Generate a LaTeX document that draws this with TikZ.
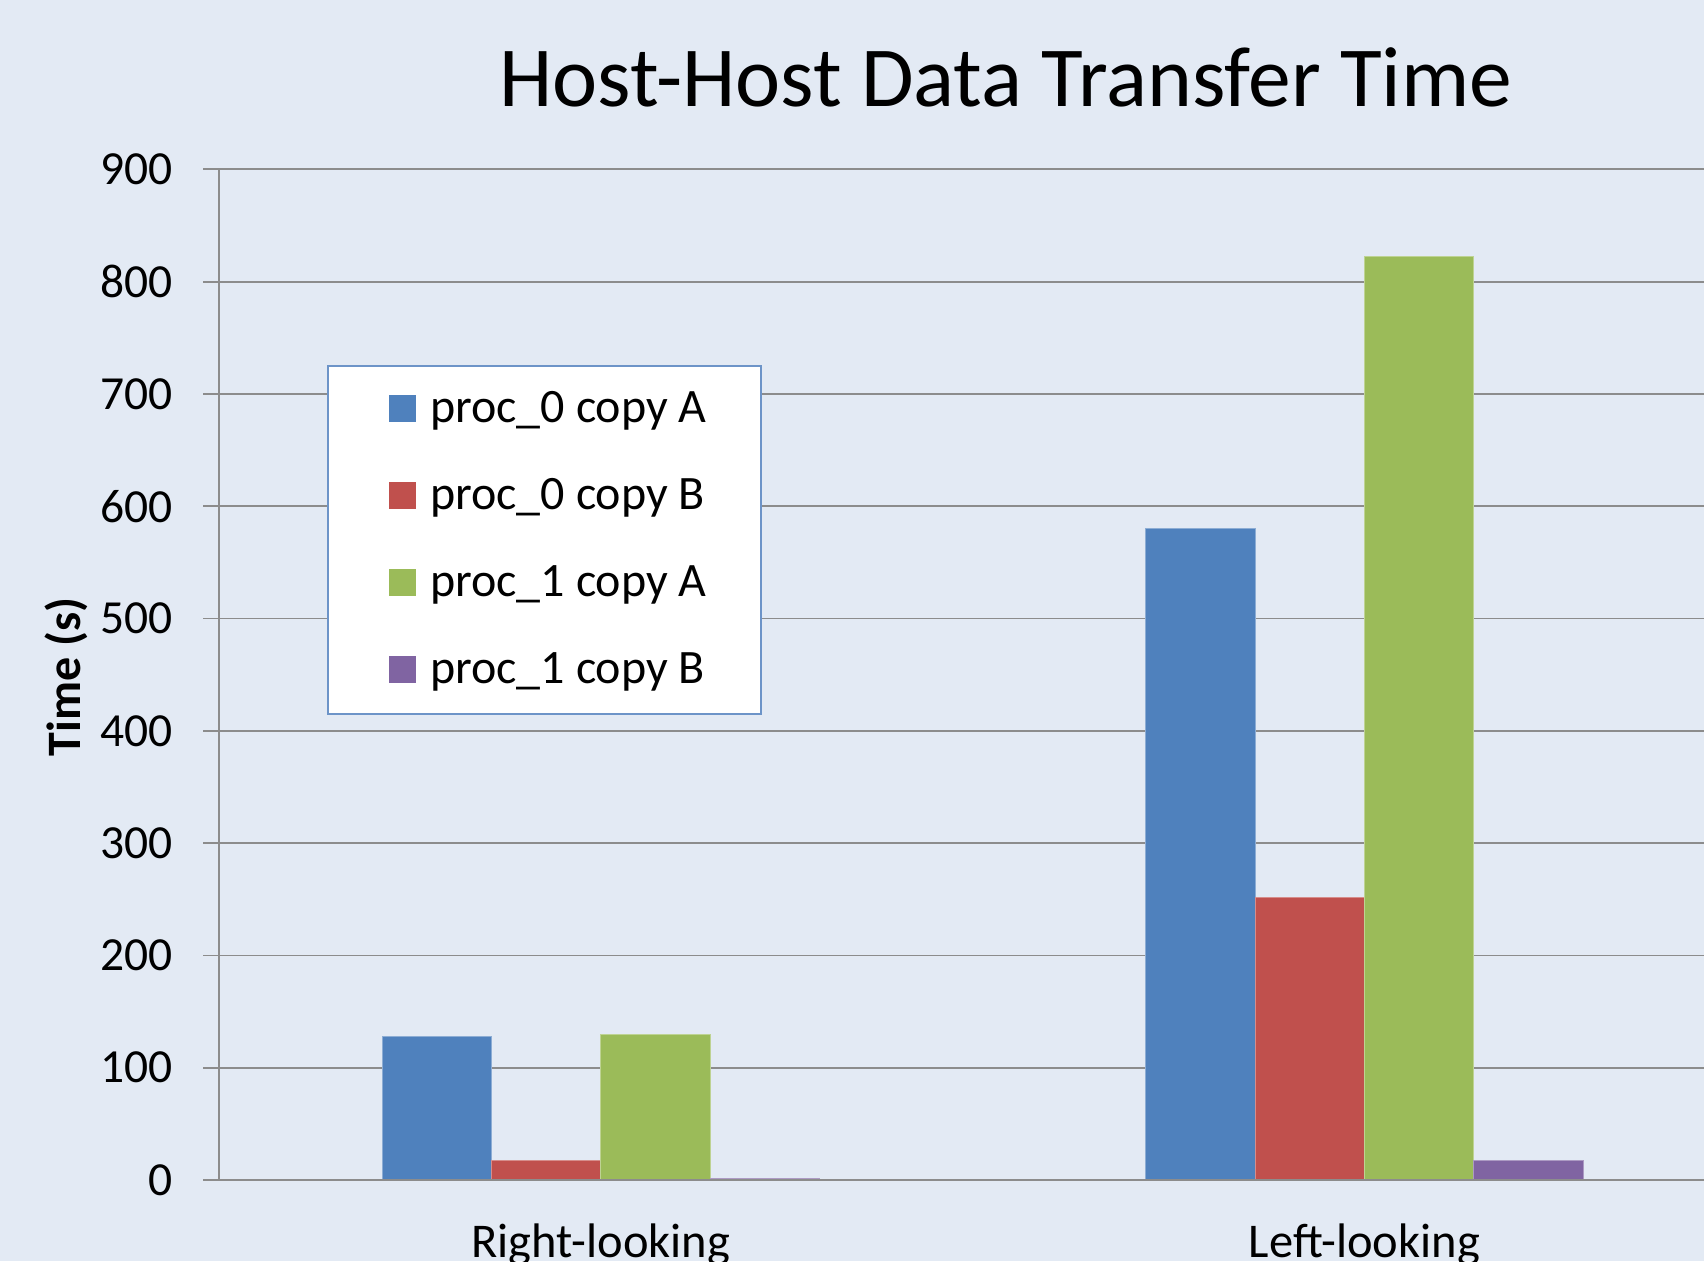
\documentclass[tikz,border=0pt]{standalone}
\usepackage{fontspec}
\setmainfont{Carlito}
\definecolor{bg}{HTML}{E3EAF4}
\definecolor{gridgray}{HTML}{8C8C8C}
\definecolor{sblue}{HTML}{4F81BD}
\definecolor{sred}{HTML}{C0504D}
\definecolor{sgreen}{HTML}{9BBB59}
\definecolor{spurple}{HTML}{8064A2}
\definecolor{legendedge}{HTML}{6D94C8}
\tikzset{
  gridline/.style={draw=gridgray, line width=1.8},
  ticklabel/.style={anchor=east, inner sep=0pt, font=\fontsize{47.5}{50}\selectfont},
  catlabel/.style={anchor=base, inner sep=0pt, font=\fontsize{48.5}{52}\selectfont},
  legendtext/.style={anchor=base west, inner sep=0pt, font=\fontsize{48}{52}\selectfont},
  chartbar/.style={fill=#1, draw=#1!65!white, line width=1},
}
\begin{document}
\begin{tikzpicture}[x=1pt, y=-1pt]
% page and background
\fill[bg] (0,0) rectangle (1704,1261);
\useasboundingbox (0,0) rectangle (1704,1261);

% title
\node[anchor=base, inner sep=0pt, font=\fontsize{85.5}{90}\selectfont] (title) at (1006,106.5) {Host-Host Data Transfer Time};

% horizontal gridlines, tick marks and value labels
\foreach \v in {100,200,...,900} {
  \draw[gridline] (219,{1180-1.123*\v}) -- (1704,{1180-1.123*\v});
}
\foreach \v in {0,100,...,900} {
  \draw[gridline] (203,{1180-1.123*\v}) -- (219,{1180-1.123*\v});
  \node[ticklabel] (tick\v) at (173,{1180-1.123*\v}) {\v};
}

% vertical axis title
\node[anchor=base, inner sep=0pt, rotate=90, font=\fontsize{48}{52}\selectfont\bfseries] (ytitle) at (80,677) {Time (s)};

% bars: series colour, left edge, value
\foreach \c/\x/\v in {sblue/382.3/127.6, sred/491.6/17.5, sgreen/600.9/129.4, spurple/710.2/1.5,
                      sblue/1145.8/580, sred/1255.1/251.5, sgreen/1364.4/822.6, spurple/1473.7/17.3} {
  \filldraw[chartbar=\c] (\x,1180) rectangle ({\x+109.3},{1180-1.123*\v});
}

% category axis
\draw[gridline] (219,1180) -- (1704,1180);
\draw[gridline] (219,{1180-1.123*900}) -- (219,1180);
\node[catlabel] (catA) at (600.9,1257) {Right-looking};
\node[catlabel] (catB) at (1364.4,1257) {Left-looking};

% legend
\node[draw=legendedge, line width=1.8, fill=white, minimum width=433.3, minimum height=348.6, anchor=north west, inner sep=0pt] (legend) at (326.7,364.7) {};
\foreach \c/\t/\yb [count=\i] in {sblue/proc\_0 copy A/422, sred/proc\_0 copy B/509, sgreen/proc\_1 copy A/596, spurple/proc\_1 copy B/683} {
  \fill[\c] (389,\yb) rectangle (416,{\yb-27});
  \node[legendtext] (entry\i) at (430,\yb) {\t};
}
\end{tikzpicture}
\end{document}
